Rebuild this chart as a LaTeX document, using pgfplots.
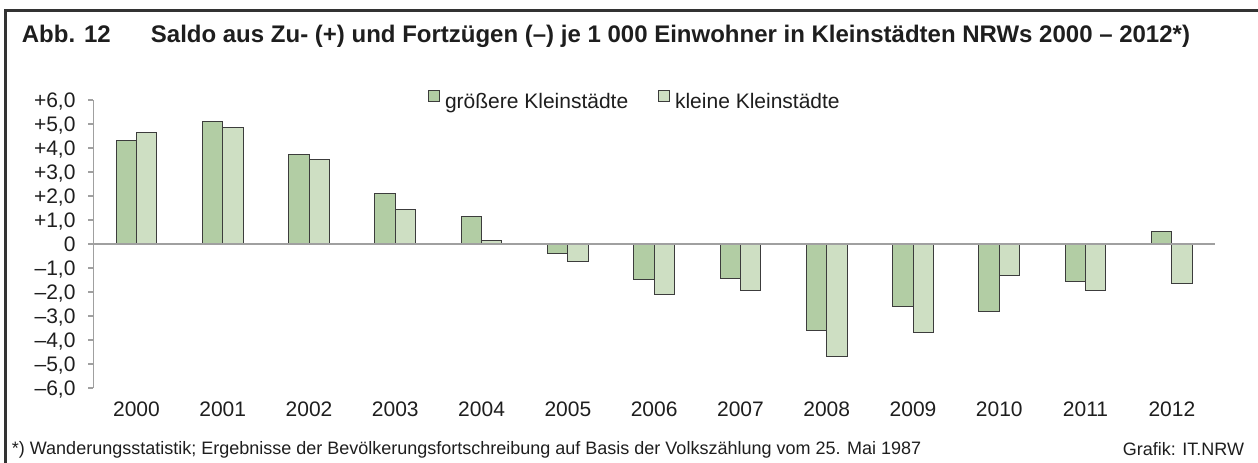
\documentclass[border=0pt]{standalone}
\usepackage{pgfplots}
\pgfplotsset{compat=1.18}
\usepackage{fontspec}
\setmainfont{Liberation Sans}
\definecolor{dgreen}{RGB}{178,205,164}
\definecolor{lgreen}{RGB}{206,223,195}
\definecolor{edge}{RGB}{60,60,60}
\definecolor{axgray}{RGB}{160,160,160}
\definecolor{framec}{RGB}{51,51,51}
\definecolor{txt}{RGB}{30,30,30}
\begin{document}
\begin{tikzpicture}[x=1pt,y=1pt]
\useasboundingbox (0,0) rectangle (1258,463);
\coordinate (AX) at (93.3,75);
\draw[framec, line width=2.5pt] (5.7,0) -- (5.7,452.5) -- (1258,452.5);
\node[anchor=base west, inner sep=0pt, font=\bfseries\fontsize{24}{27}\selectfont, txt] at (21.7,420.3) {Abb. 12};
\node[anchor=base west, inner sep=0pt, font=\bfseries\fontsize{24}{27}\selectfont, txt] at (150.7,420.3) {Saldo aus Zu- (+) und Fortzügen (–) je 1 000 Einwohner in Kleinstädten NRWs 2000 – 2012*)};
\node[anchor=base west, inner sep=0pt, font=\fontsize{18}{21}\selectfont, txt] at (11.7,8) {*) Wanderungsstatistik; Ergebnisse der Bevölkerungsfortschreibung auf Basis der Volkszählung vom 25. Mai 1987};
\node[anchor=base east, inner sep=0pt, font=\fontsize{18}{21}\selectfont, txt] at (1244.3,7) {Grafik: IT.NRW};
\begin{axis}[at={(AX)}, anchor=south west, scale only axis,
  width=1121.7pt, height=288pt,
  xmin=-0.5, xmax=12.5, ymin=-6, ymax=6,
  ybar=0pt, bar width=20.3pt,
  axis y line*=left, axis x line*=bottom,
  x axis line style={draw=none},
  y axis line style={axgray, line width=1.3pt},
  xtick={0,...,12},
  xticklabels={2000,2001,2002,2003,2004,2005,2006,2007,2008,2009,2010,2011,2012},
  xtick style={draw=none},
  ytick={-6,...,6},
  yticklabels={{–6,0},{–5,0},{–4,0},{–3,0},{–2,0},{–1,0},0,{+1,0},{+2,0},{+3,0},{+4,0},{+5,0},{+6,0}},
  ytick style={axgray, line width=1.3pt},
  tick align=outside, major tick length=5pt,
  tick label style={font=\fontsize{21}{25}\selectfont, text=txt},
  yticklabel style={anchor=base east, inner sep=0pt, xshift=-12.6pt, yshift=-7.5pt},
  xticklabel style={anchor=base, inner sep=0pt, yshift=-24pt},
  legend columns=2,
  legend style={draw=none, fill=none, at={(0.2984,1.0)}, anchor=west, inner sep=0pt,
    nodes={inner sep=0pt, font=\fontsize{21}{25}\selectfont, text=txt},
    /tikz/every even column/.append style={column sep=30pt},
    /tikz/every odd column/.append style={column sep=5pt}},
  legend image code/.code={\draw[#1, line width=0.8pt] (0pt,-0.5pt) rectangle (11pt,10.5pt);},
]
\addplot[fill=dgreen, draw=edge, line width=1pt] coordinates {
(0,4.30) (1,5.12) (2,3.73) (3,2.11) (4,1.16) (5,-0.38) (6,-1.48) (7,-1.44) (8,-3.60) (9,-2.59) (10,-2.80) (11,-1.58) (12,0.54)};
\addplot[fill=lgreen, draw=edge, line width=1pt] coordinates {
(0,4.63) (1,4.86) (2,3.52) (3,1.42) (4,0.14) (5,-0.73) (6,-2.11) (7,-1.95) (8,-4.68) (9,-3.67) (10,-1.30) (11,-1.92) (12,-1.65)};
\legend{größere Kleinstädte, kleine Kleinstädte}
\draw[axgray, line width=1.5pt] (axis cs:-0.5,0) -- (axis cs:12.5,0);
\end{axis}
\end{tikzpicture}
\end{document}
